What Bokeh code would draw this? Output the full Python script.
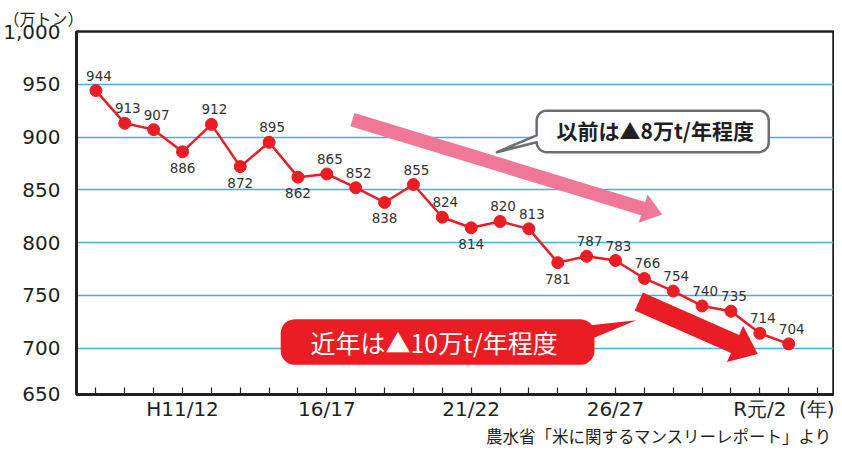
import numpy as np
from bokeh.plotting import figure
from bokeh.layouts import column
from bokeh.models import FixedTicker, CustomJSTickFormatter, Title, ColumnDataSource, Range1d
from bokeh.embed import file_html
from bokeh.resources import INLINE
from bokeh.core.properties import value

# ---------------- data ----------------
years = ["H8/9", "H9/10", "H10/11", "H11/12", "H12/13", "H13/14", "H14/15", "H15/16",
         "H16/17", "H17/18", "H18/19", "H19/20", "H20/21", "H21/22", "H22/23", "H23/24",
         "H24/25", "H25/26", "H26/27", "H27/28", "H28/29", "H29/30", "H30/R元", "R元/2", "R2/3"]
demand = [944, 913, 907, 886, 912, 872, 895, 862, 865, 852, 838, 855, 824, 814, 820, 813,
          781, 787, 783, 766, 754, 740, 735, 714, 704]
tick_years = ["H11/12", "H16/17", "H21/22", "H26/27", "R元/2"]
tick_texts = ["H11/12", "16/17", "21/22", "26/27", "R元/2"]
y_tick_values = [650, 700, 750, 800, 850, 900, 950, 1000]
y_tick_texts = ["650", "700", "750", "800", "850", "900", "950", "1,000"]
grid_values = [700, 750, 800, 850, 900, 950]
unit_label = "（万トン）"
year_unit = "(年)"
source_note = "農水省「米に関するマンスリーレポート」より"
note_old = "以前は▲8万t/年程度"
note_new = "近年は▲10万t/年程度"

# ---------------- layout ----------------
W, H = 834, 423
NOTE_H = 24
ML, MT, MR = 73, 31, 1
FW, FH = W - ML - MR, 367
MB = H - MT - FH
X0_PX, DX_PX = 92.5, 28.98          # px of first category and spacing
Y_PER_UNIT = 53.35 / 50.0
x_start = (ML - X0_PX) / DX_PX
x_end = x_start + FW / DX_PX
y_end = 1000.0
y_start = y_end - FH / Y_PER_UNIT

def d(xp, yp):
    """picture pixel -> data coordinates"""
    return (x_start + (xp - ML) / DX_PX, y_end - (yp - MT) / Y_PER_UNIT)

def dpts(pts):
    xs, ys = zip(*[d(a, b) for a, b in pts])
    return list(xs), list(ys)

def rrect(L, T, R, B, r, n=8):
    pts = []
    for cx, cy, a0, a1 in [(L + r, T + r, np.pi, np.pi / 2), (R - r, T + r, np.pi / 2, 0),
                           (R - r, B - r, 0, -np.pi / 2), (L + r, B - r, -np.pi / 2, -np.pi)]:
        for a in np.linspace(a0, a1, n):
            pts.append((cx + r * np.cos(a), cy - r * np.sin(a)))
    return pts

def arrow(S, T, half_shaft, half_head, head_len):
    S = np.array(S, float); T = np.array(T, float)
    u = (T - S) / np.linalg.norm(T - S)
    nrm = np.array([-u[1], u[0]])
    B = T - head_len * u
    pts = [S + half_shaft * nrm, B + half_shaft * nrm, B + half_head * nrm, T,
           B - half_head * nrm, B - half_shaft * nrm, S - half_shaft * nrm]
    return [tuple(q) for q in pts]

RED = "#ea1c24"
PINK = "#f07896"
DARK = "#231f20"
GRID = "#3fb3e4"
NUM_FONT = "DejaVu Sans"
JP_FONT = "Noto Sans CJK JP"

fig = figure(width=W, height=H, output_backend="svg", toolbar_location=None,
             x_range=Range1d(x_start, x_end), y_range=Range1d(y_start, y_end),
             min_border_left=ML, min_border_right=MR, min_border_top=MT, min_border_bottom=MB)
fig.background_fill_color = "white"
fig.border_fill_color = "white"
fig.outline_line_color = DARK
fig.outline_line_width = 2.5

# axes
fig.xgrid.visible = False
fig.ygrid.ticker = FixedTicker(ticks=grid_values)
fig.ygrid.grid_line_color = GRID
fig.ygrid.grid_line_width = 1.5

fig.yaxis.ticker = FixedTicker(ticks=[y_start + 0.05] + y_tick_values[1:-1] + [y_end - 0.05])
fig.yaxis.formatter = CustomJSTickFormatter(args=dict(vals=y_tick_values, txt=y_tick_texts), code="""
    if (tick < vals[1] - 20) return txt[0];
    for (let k = 0; k < vals.length; k++) { if (Math.abs(tick - vals[k]) < 1) return txt[k]; }
    return "";
""")
fig.yaxis.major_tick_line_color = None
fig.yaxis.minor_tick_line_color = None
fig.yaxis.axis_line_width = 3
fig.yaxis.axis_line_color = DARK
fig.yaxis.major_label_text_font = NUM_FONT
fig.yaxis.major_label_text_font_size = "20px"
fig.yaxis.major_label_text_color = DARK
fig.yaxis.major_label_standoff = 10

xl = [""] * 26
idx_of = {y: i for i, y in enumerate(years)}
for yv, t in zip(tick_years, tick_texts):
    xl[idx_of[yv]] = t
xl[25] = year_unit
fig.xaxis.ticker = FixedTicker(ticks=list(range(26)))
fig.xaxis.formatter = CustomJSTickFormatter(args=dict(labels=xl), code="""
    const i = Math.round(tick); return (labels[i] !== undefined) ? labels[i] : "";
""")
fig.xaxis.major_tick_in = 7
fig.xaxis.major_tick_out = 0
fig.xaxis.major_tick_line_color = DARK
fig.xaxis.major_tick_line_width = 1.2
fig.xaxis.minor_tick_line_color = None
fig.xaxis.axis_line_width = 3
fig.xaxis.axis_line_color = DARK
fig.xaxis.major_label_text_font = NUM_FONT
fig.xaxis.major_label_text_font_size = "20px"
fig.xaxis.major_label_text_color = DARK
fig.xaxis.major_label_standoff = 2

# ---------------- annotations (shapes) ----------------
xs, ys = dpts(arrow((350, 120), (661, 216), 7, 15, 20))
fig.patch(xs, ys, fill_color=PINK, line_color=None)

gray = rrect(535, 111, 768, 153, 10)
gray = gray + [(495, 153), (535, 136)]
xs, ys = dpts(gray)
fig.patch(xs, ys, fill_color="white", line_color="#6d6e71", line_width=2.5, line_join="round")
gx, gy = d(654, 131)
fig.text(x=[gx], y=[gy], text=[note_old], text_font=value(JP_FONT), text_font_size="21px",
         text_font_style="bold", text_color=DARK, text_align="center", text_baseline="middle")

xs, ys = dpts(arrow((637.5, 304), (757, 357), 10, 20, 25))
fig.patch(xs, ys, fill_color=RED, line_color=None)

xs, ys = dpts(rrect(278, 322, 593, 368, 14))
fig.patch(xs, ys, fill_color=RED, line_color=None)
xs, ys = dpts([(580, 329), (635, 323), (580, 346)])
fig.patch(xs, ys, fill_color=RED, line_color=None)
rx, ry = d(432, 345)
fig.text(x=[rx], y=[ry], text=[note_new], text_font=value(JP_FONT), text_font_size="25px",
         text_color="white", text_align="center", text_baseline="middle")

# ---------------- data series ----------------
n = len(demand)
xi = list(range(n))
below = [0 < i < n - 1 and demand[i] < demand[i - 1] and demand[i] < demand[i + 1] for i in range(n)]
src = ColumnDataSource(dict(x=xi, y=demand, lab=[str(v) for v in demand],
                            xo=[0 if b else 3 for b in below],
                            yo=[16 if b else -15 for b in below]))
fig.line("x", "y", source=src, line_color=RED, line_width=2.5)
fig.scatter("x", "y", source=src, size=12, fill_color=RED, line_color=RED)
fig.text("x", "y", text="lab", source=src, x_offset="xo", y_offset="yo",
         text_font=value(NUM_FONT), text_font_size="13.5px", text_color="#333333",
         text_align="center", text_baseline="middle")

# unit label at top-left
fig.add_layout(Title(text=unit_label, align="left", offset=-73, text_font=JP_FONT,
                     text_font_size="16px", text_font_style="normal", text_color=DARK,
                     standoff=3), "above")

# ---------------- source note strip ----------------
note = figure(width=W, height=NOTE_H, output_backend="svg", toolbar_location=None,
              x_range=Range1d(0, W), y_range=Range1d(0, NOTE_H),
              x_axis_type=None, y_axis_type=None, min_border=0)
note.outline_line_color = None
note.xgrid.visible = False
note.ygrid.visible = False
note.background_fill_color = "white"
note.border_fill_color = "white"
note.text(x=[W - 1], y=[NOTE_H / 2], text=[source_note], text_font=value(JP_FONT),
          text_font_size="16.5px", text_color=DARK, text_align="right", text_baseline="middle")

p = column(fig, note, spacing=0)
open("out.html", "w").write(file_html(p, INLINE))
